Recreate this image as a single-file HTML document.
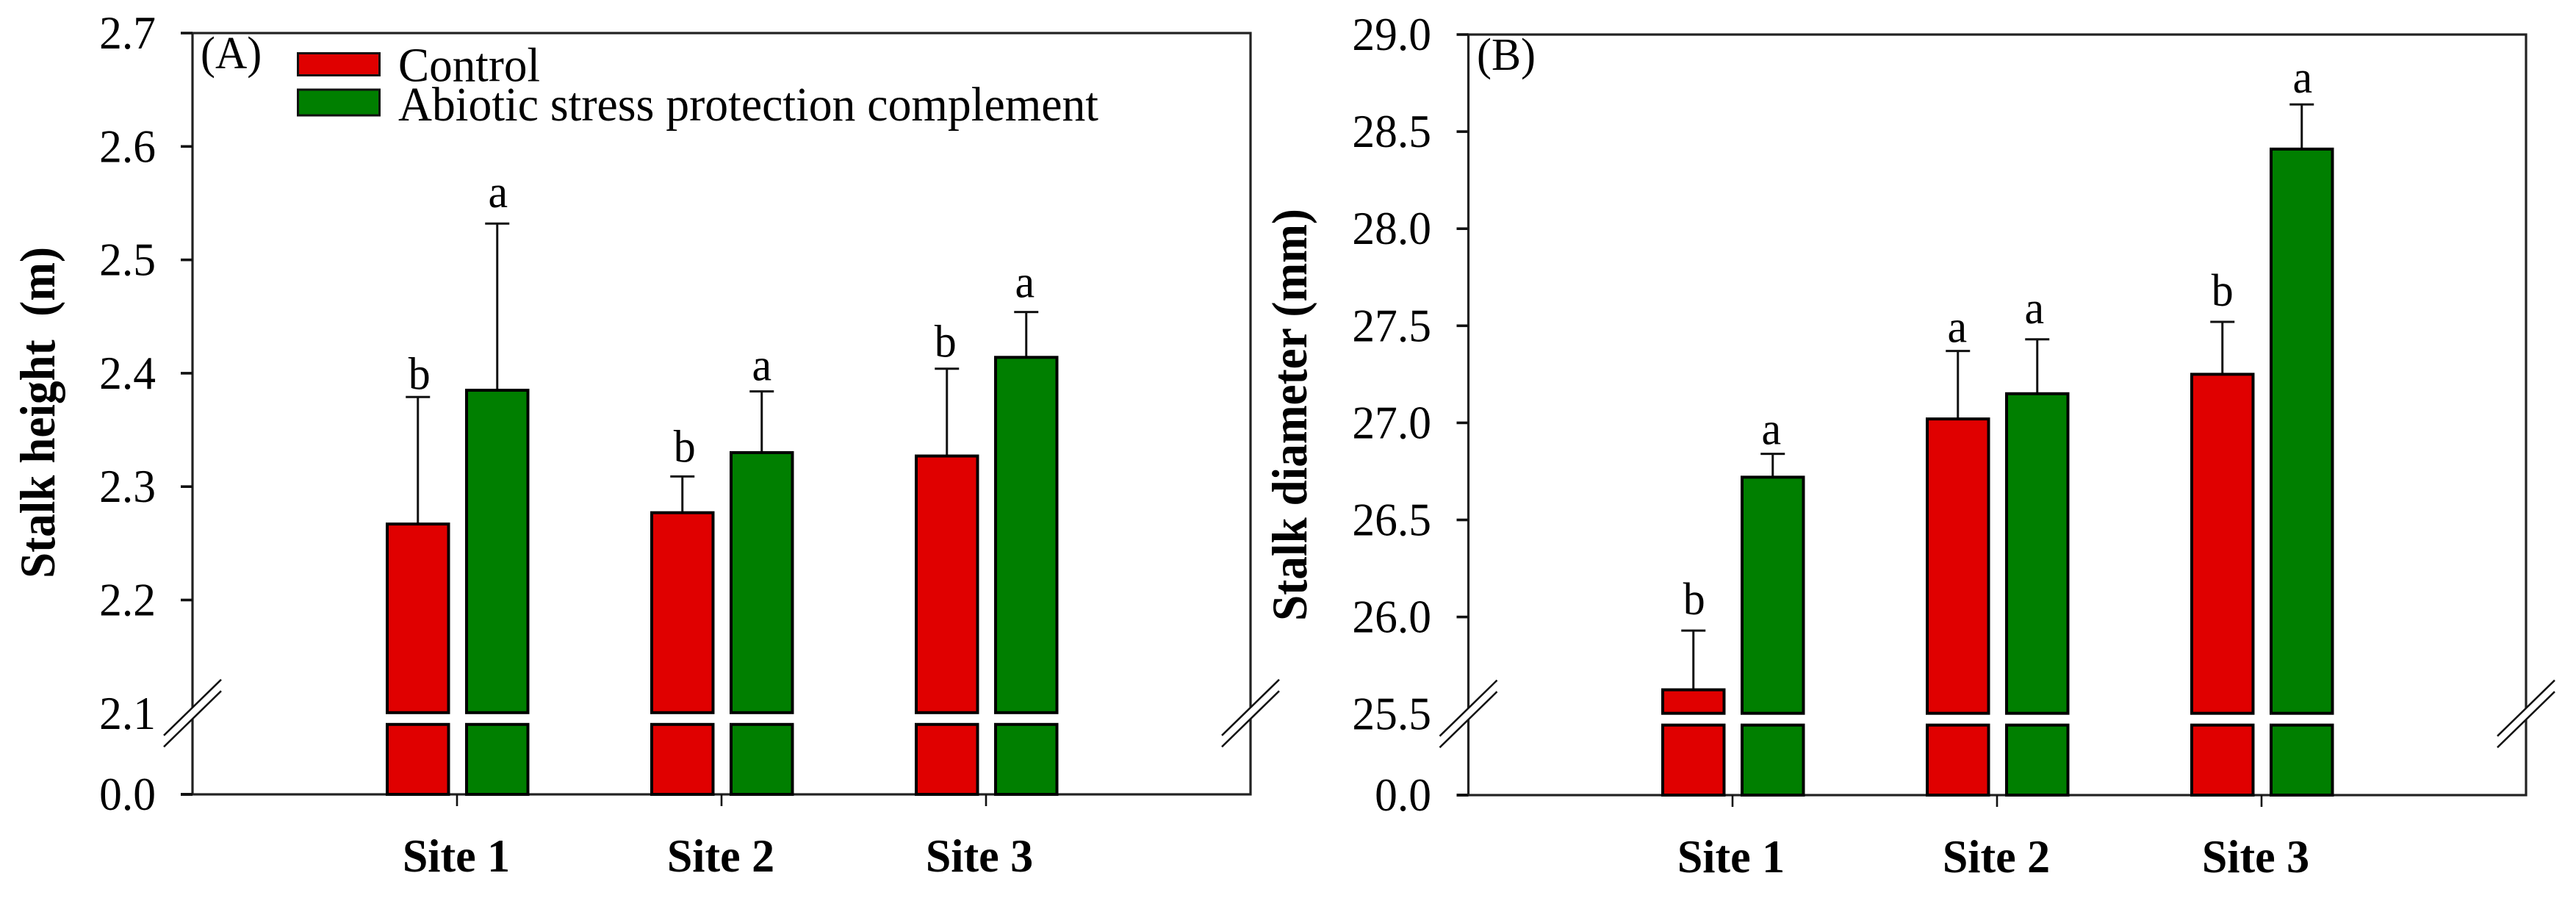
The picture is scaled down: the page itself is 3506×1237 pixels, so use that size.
<!DOCTYPE html>
<html lang="en">
<head>
<meta charset="utf-8">
<title>Stalk height and diameter by site</title>
<style>
html,body{margin:0;padding:0;background:#fff;}
svg{display:block;}
text{font-family:"Liberation Serif","Times New Roman",serif;fill:#000;}
</style>
</head>
<body>
<svg id="figure" xmlns="http://www.w3.org/2000/svg" width="3506" height="1237" viewBox="0 0 3506 1237">
  <rect x="0" y="0" width="3506" height="1237" fill="#ffffff"/>
  <g id="panel-a"></g>
  <g id="panel-b"></g>
</svg>
<script>
const sites = ['Site 1', 'Site 2', 'Site 3'];

const heightTicks = [2.1, 2.2, 2.3, 2.4, 2.5, 2.6, 2.7];
const heightControl = [2.267, 2.277, 2.327];
const heightTreatment = [2.385, 2.33, 2.414];
const heightControlError = [0.112, 0.032, 0.077];
const heightTreatmentError = [0.147, 0.054, 0.04];
const heightControlLetters = ['b', 'b', 'b'];
const heightTreatmentLetters = ['a', 'a', 'a'];

const diameterTicks = [25.5, 26.0, 26.5, 27.0, 27.5, 28.0, 28.5, 29.0];
const diameterControl = [25.625, 27.02, 27.25];
const diameterTreatment = [26.72, 27.15, 28.41];
const diameterControlError = [0.305, 0.35, 0.27];
const diameterTreatmentError = [0.12, 0.28, 0.23];
const diameterControlLetters = ['b', 'a', 'b'];
const diameterTreatmentLetters = ['a', 'a', 'a'];

const legendLabels = ['Control', 'Abiotic stress protection complement'];

const RED = '#e00000';
const GREEN = '#007f00';
const NS = 'http://www.w3.org/2000/svg';

function make(parent, tag, attrs, content) {
  const el = document.createElementNS(NS, tag);
  for (const k in attrs) el.setAttribute(k, attrs[k]);
  if (content !== undefined) el.textContent = content;
  parent.appendChild(el);
  return el;
}

function line(parent, x1, y1, x2, y2, w, color) {
  return make(parent, 'line', {x1: x1, y1: y1, x2: x2, y2: y2, stroke: color || '#111', 'stroke-width': w});
}

function label(parent, x, y, str, size, anchor, weight, sy) {
  return make(parent, 'text', {
    transform: 'translate(' + x + ',' + y + ') scale(1,' + (sy || 1) + ')',
    'font-size': size,
    'text-anchor': anchor,
    'font-weight': weight || 'normal'
  }, str);
}

function drawBreak(parent, cx, y1, y2, dx, name) {
  const g = make(parent, 'g', {});
  
  
  make(g, 'polygon', {
    points: (cx - dx) + ',' + (y1 + 38) + ' ' + (cx + dx) + ',' + (y1 - 38) + ' ' + (cx + dx) + ',' + (y2 - 38) + ' ' + (cx - dx) + ',' + (y2 + 38),
    fill: '#fff'
  });
  line(g, cx - dx, y1 + 38, cx + dx, y1 - 38, 2.5);
  line(g, cx - dx, y2 + 38, cx + dx, y2 - 38, 2.5);
}

function drawPanel(p) {
  const root = document.getElementById(p.id);
  const yScale = function (v) {
    return p.top + (p.ticks[p.ticks.length - 1] - v) * p.pxPerUnit;
  };
  const breakY = yScale(p.ticks[0]);
  const lowerTop = breakY + 14;

  const frame = make(root, 'rect', {
    x: p.left, y: p.top, width: p.right - p.left, height: p.base - p.top,
    fill: 'none', stroke: '#222', 'stroke-width': 3.2
  });
  
  

  const baseLine = line(root, p.left - 16, p.base, p.left, p.base, 4);
  
  

  const zero = label(root, p.labelRight, p.base + 21, '0.0', 61.5, 'end', 'normal', 1.04);
  
  

  p.ticks.forEach(function (t, i) {
    const y = yScale(t);
    if (i > 0) {
      const tick = line(root, p.left - 16, y, p.left, y, 3.6);
      
      
    }
    const tl = label(root, p.labelRight, y + 21, t.toFixed(1), 61.5, 'end', 'normal', 1.04);
    
    
  });

  drawBreak(root, p.left, breakY - 0.5 - 7.5, breakY + 7.5, 39, 'y-axis-break-left');
  drawBreak(root, p.right, breakY - 0.5 - 7.5, breakY + 7.5, 39, 'y-axis-break-right');

  const yTitle = make(root, 'text', {
    transform: 'translate(' + p.titleX + ',' + p.titleBottom + ') rotate(-90) scale(1,1.08)',
    'font-size': 63,
    'font-weight': 'bold',
    textLength: p.titleLength,
    lengthAdjust: 'spacingAndGlyphs',
    'xml:space': 'preserve',
    style: 'white-space:pre'
  }, p.title);
  
  

  const panelTag = label(root, p.tagX, p.tagY, p.tag, 60, 'start', 'normal', 1.05);
  
  

  sites.forEach(function (site, i) {
    const cx = p.firstSite + i * 360;
    const g = make(root, 'g', {});
    
    

    const xt = line(g, cx, p.base, cx, p.base + 16, 2.6);
    
    

    const sl = label(g, cx + p.siteShift[i], p.siteBase, site, 62, 'middle', 'bold', 1.03);
    
    

    [
      {v: p.control[i], e: p.controlError[i], l: p.controlLetters[i], c: RED, x0: cx - 95, n: 'control', gap: p.controlGap[i], nudge: p.controlNudge[i]},
      {v: p.treatment[i], e: p.treatmentError[i], l: p.treatmentLetters[i], c: GREEN, x0: cx + 13, n: 'treatment', gap: p.treatmentGap[i], nudge: p.treatmentNudge[i]}
    ].forEach(function (b) {
      const w = 83.5;
      const mid = b.x0 + w / 2;
      const yv = yScale(b.v);
      const yc = yScale(b.v + b.e);

      const errStem = line(g, mid, yv, mid, yc, 3);
      
      

      const errCap = line(g, mid - 16.5, yc, mid + 16.5, yc, 3);
      
      

      const upper = make(g, 'rect', {
        x: b.x0, y: yv, width: w, height: breakY - 1 - yv,
        fill: b.c, stroke: '#000', 'stroke-width': 4
      });
      
      

      const lower = make(g, 'rect', {
        x: b.x0, y: lowerTop + 1, width: w, height: p.base - lowerTop - 1,
        fill: b.c, stroke: '#000', 'stroke-width': 4
      });
      
      

      const letter = label(g, mid + b.nudge, yc - b.gap, b.l, 60, 'middle', 'normal', 1.05);
      
      
    });
  });
}

drawPanel({
  id: 'panel-a', left: 262, right: 1702, top: 45, base: 1081, pxPerUnit: 1543,
  labelRight: 212, firstSite: 622, siteBase: 1186, siteShift: [-1, -1, -9],
  ticks: heightTicks, control: heightControl, treatment: heightTreatment,
  controlError: heightControlError, treatmentError: heightTreatmentError,
  controlLetters: heightControlLetters, treatmentLetters: heightTreatmentLetters,
  controlGap: [11, 20, 16], treatmentGap: [22, 15, 20],
  controlNudge: [2, 3, -2], treatmentNudge: [1, 0, -2],
  title: 'Stalk height  (m)', titleX: 74, titleBottom: 787, titleLength: 451,
  tag: '(A)', tagX: 273, tagY: 93
});

drawPanel({
  id: 'panel-b', left: 1998.5, right: 3438, top: 47, base: 1082, pxPerUnit: 264.2,
  labelRight: 1948, firstSite: 2358, siteBase: 1187, siteShift: [-2, -1, -8],
  ticks: diameterTicks, control: diameterControl, treatment: diameterTreatment,
  controlError: diameterControlError, treatmentError: diameterTreatmentError,
  controlLetters: diameterControlLetters, treatmentLetters: diameterTreatmentLetters,
  controlGap: [22, 12, 22], treatmentGap: [13, 22, 16],
  controlNudge: [1, -1, 0], treatmentNudge: [-2, -4, 1],
  title: 'Stalk diameter (mm)', titleX: 1778, titleBottom: 845, titleLength: 561,
  tag: '(B)', tagX: 2010, tagY: 95
});

(function drawLegend() {
  const root = document.getElementById('panel-a');
  const g = make(root, 'g', {});
  
  

  const s1 = make(g, 'rect', {x: 405.5, y: 72.5, width: 111, height: 30, fill: RED, stroke: '#111', 'stroke-width': 3});
  
  

  const t1 = make(g, 'text', {transform: 'translate(542,110.5) scale(1,1.05)', 'font-size': 63, textLength: 193, lengthAdjust: 'spacingAndGlyphs'}, legendLabels[0]);
  
  

  const s2 = make(g, 'rect', {x: 405.5, y: 122, width: 111, height: 35, fill: GREEN, stroke: '#111', 'stroke-width': 3});
  
  

  const t2 = make(g, 'text', {transform: 'translate(542,164) scale(1,1.05)', 'font-size': 63, textLength: 953, lengthAdjust: 'spacingAndGlyphs'}, legendLabels[1]);
  
  
})();
</script>
</body>
</html>
